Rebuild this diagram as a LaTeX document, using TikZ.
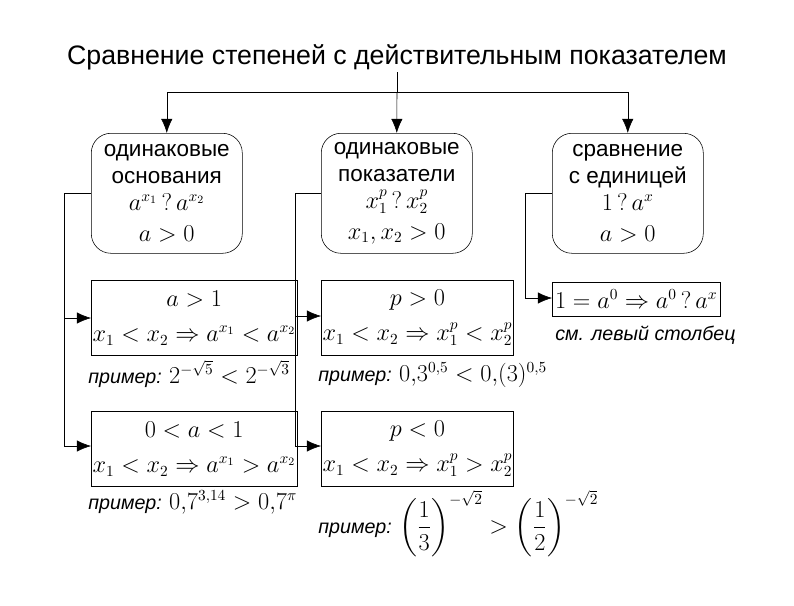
\documentclass[tikz,border=0pt]{standalone}
\usepackage{amsmath}
\usepackage{fontspec}
\setmainfont{Liberation Sans}
\usetikzlibrary{arrows.meta,positioning}
\begin{document}
\begin{tikzpicture}[
    x=0.025cm, y=-0.025cm,
    every node/.style={font=\fontsize{16}{19}\selectfont},
    kind/.style={draw, rounded corners=14pt, minimum width=151*0.025cm, minimum height=120*0.025cm, align=center, anchor=north west, inner sep=1pt},
    rule/.style={draw, minimum width=177*0.025cm, minimum height=75*0.025cm, align=center, anchor=north west, inner sep=1pt},
    note/.style={font=\fontsize{14}{16}\selectfont\itshape, anchor=north west, inner sep=0pt},
    arrow/.style={-{Latex[length=10pt,width=8pt]}}
]
    \useasboundingbox (0,0) rectangle (794,605);

    % Title
    \node (title) at (397,57) {\fontsize{19}{22}\selectfont Сравнение степеней с действительным показателем};

    % Top row
    \node[kind] (base) at (91,133) {одинаковые\\основания\\$a^{x_1}\,?\,a^{x_2}$\\[3pt]$a>0$};
    \node[kind] (expo) at (321,133) {одинаковые\\показатели\\$x_1^p\,?\,x_2^p$\\[3pt]$x_1,x_2>0$};
    \node[kind] (unit) at (552,133) {сравнение\\с единицей\\$1\,?\,a^x$\\[3pt]$a>0$};

    % Cases
    \node[rule] (big) at (91,280) {$a>1$\\[6pt]$x_1<x_2\Rightarrow a^{x_1}<a^{x_2}$};
    \node[rule] (small) at (91,411) {$0<a<1$\\[6pt]$x_1<x_2\Rightarrow a^{x_1}>a^{x_2}$};
    \node[rule] (pos) at (321,280) {$p>0$\\[6pt]$x_1<x_2\Rightarrow x_1^p<x_2^p$};
    \node[rule] (neg) at (321,411) {$p<0$\\[6pt]$x_1<x_2\Rightarrow x_1^p>x_2^p$};
    \node[rule, minimum width=168*0.025cm, minimum height=34*0.025cm] (one) at (552,282) {$1=a^0\Rightarrow a^0\,?\,a^x$};

    % Examples
    \node[note] (ex1) at (88,360) {пример: \upshape\fontsize{16}{19}\selectfont$2^{-\sqrt5}<2^{-\sqrt3}$};
    \node[note] (ex2) at (88,490) {пример: \upshape\fontsize{16}{19}\selectfont$0{,}7^{3{,}14}>0{,}7^{\pi}$};
    \node[note] (ex3) at (318,362) {пример: \upshape\fontsize{16}{19}\selectfont$0{,}3^{0{,}5}<0{,}(3)^{0{,}5}$};
    \node[note] (ex4) at (318,490) {пример: \upshape\fontsize{16}{19}\selectfont$\left(\dfrac13\right)^{-\sqrt2}>\left(\dfrac12\right)^{-\sqrt2}$};
    \node[note] (ex5) at (555,326) {см. левый столбец};

    % Branches from title
    \coordinate (top) at (397,92);
    \draw (397,72) -- (top);
    \draw[arrow] (top) -| (base.north);
    \draw[arrow] (top) -- (expo.north);
    \draw[arrow] (top) -| (unit.north);

    % Branches to cases
    \draw[arrow] (base.west |- 0,193) -| (64,318) -- (big.west |- 0,318);
    \draw[arrow] (64,318) |- (small.west |- 0,446);
    \draw[arrow] (expo.west |- 0,193) -| (295,316) -- (pos.west |- 0,316);
    \draw[arrow] (295,316) |- (neg.west |- 0,446);
    \draw[arrow] (unit.west |- 0,193) -| (525,298) -- (one.west |- 0,298);
\end{tikzpicture}
\end{document}
